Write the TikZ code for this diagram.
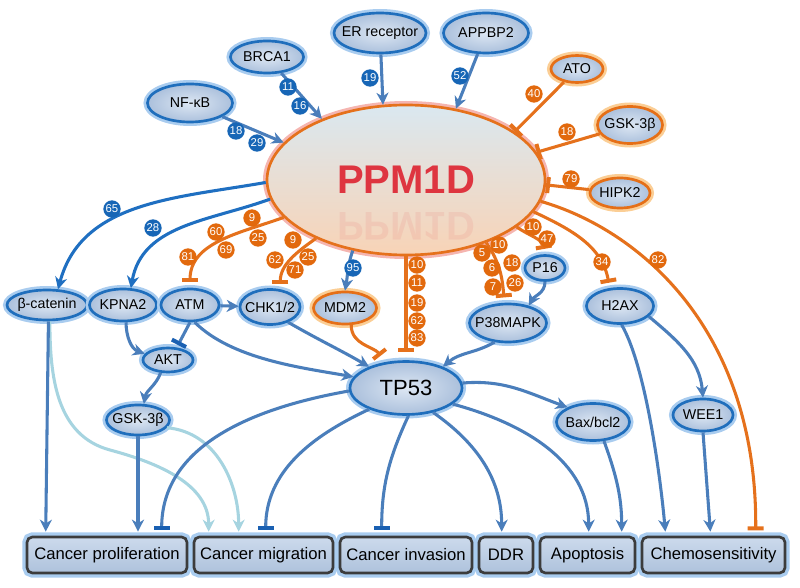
\documentclass[tikz,border=0pt]{standalone}
\usepackage{fontspec}
\setmainfont{Liberation Sans}
\usetikzlibrary{shapes.geometric,arrows.meta,calc}

\definecolor{lineblue}{HTML}{4A7EBB}
\definecolor{deepblue}{HTML}{1F6FC1}
\definecolor{barblue}{HTML}{1A60B2}
\definecolor{paleblue}{HTML}{A6D4E0}
\definecolor{lorange}{HTML}{E5711C}
\definecolor{ndblue}{HTML}{1F6EBC}
\definecolor{ndorange}{HTML}{E56F17}
\definecolor{ndin}{HTML}{DDE7F3}
\definecolor{ndout}{HTML}{ABC0DC}
\definecolor{glowblue}{HTML}{A9CCEF}
\definecolor{gloworange}{HTML}{FBCE95}
\definecolor{badgeblue}{HTML}{1766B6}
\definecolor{badgeorange}{HTML}{E2690D}
\definecolor{boxgrey}{HTML}{3C3C3C}
\definecolor{boxtop}{HTML}{CCDAEC}
\definecolor{boxbot}{HTML}{AEC2DC}
\definecolor{ppmtop}{HTML}{DAE8F0}
\definecolor{ppmbot}{HTML}{F8D3B6}
\definecolor{ppmglow}{HTML}{F5B5B0}
\definecolor{ppmred}{HTML}{DE3540}

\newcommand{\ctr}[1]{\makebox[0pt]{#1}}

\begin{document}
\begin{tikzpicture}[x=0.75pt, y=-0.75pt,
	nd/.style={ellipse, inner sep=0pt, line width=2pt, inner color=ndin, outer color=ndout,
		font=\fontsize{10.7}{12}\selectfont},
	bnd/.style={nd, draw=ndblue, preaction={draw=glowblue, line width=6pt}},
	ond/.style={nd, draw=ndorange, preaction={draw=gloworange, line width=6pt}},
	sz/.style 2 args={minimum width=#1*0.75pt, minimum height=#2*0.75pt},
	outbox/.style={rectangle, rounded corners=4pt, draw=boxgrey, line width=2pt,
		top color=boxtop, bottom color=boxbot, preaction={draw=glowblue, line width=7pt},
		inner sep=0pt, font=\fontsize{12.5}{14}\selectfont},
	act/.style={draw=lineblue, line width=2.3pt, -{Stealth[length=9pt, width=9pt, inset=2.8pt]}},
	lact/.style={act, draw=paleblue},
	inh/.style={draw=lorange, line width=2.3pt, -{Bar[width=12pt, line width=3pt]}, shorten >=4pt},
	binh/.style={draw=lineblue, line width=2.3pt, -{Bar[width=12pt, line width=3pt, color=barblue]}, shorten >=4pt},
	tobox/.style={shorten >=3pt},
	bbadge/.style={circle, fill=badgeblue, text=white, inner sep=0pt, minimum size=13pt,
		font=\fontsize{8.5}{9}\selectfont},
	obadge/.style={bbadge, fill=badgeorange}]

	\useasboundingbox (0,0) rectangle (800,588);

	\node[ellipse, draw=lorange, line width=2pt, top color=ppmtop, bottom color=ppmbot,
		preaction={draw=ppmglow, line width=6pt}, inner sep=0pt, sz={278}{150},
		text=ppmred, font=\fontsize{30}{32}\selectfont\bfseries] (ppm) at (406,180) {PPM1D};
	\node[text=ppmred, text opacity=0.09, font=\fontsize{30}{32}\selectfont\bfseries] (ppmrefl) at (406,226) {\scalebox{1}[-1]{PPM1D}};

	\node[bnd, sz={85}{38}] (nfkb) at (190,103) {\ctr{NF-κB}};
	\node[bnd, sz={73}{32}] (brca) at (267,57) {\ctr{BRCA1}};
	\node[bnd, sz={92}{40}] (er) at (380,33) {\ctr{ER receptor}};
	\node[bnd, sz={85}{40}] (appbp) at (486,33) {\ctr{APPBP2}};
	\node[ond, sz={52}{27}] (ato) at (577,69) {\ctr{ATO}};
	\node[ond, sz={65}{37}] (gskr) at (630,125) {\ctr{GSK-3β}};
	\node[ond, sz={60}{30}] (hipk) at (620,193) {\ctr{HIPK2}};

	\node[bnd, sz={80}{30}] (bcat) at (47,305) {\ctr{β-catenin}};
	\node[bnd, sz={67}{32}] (kpna) at (123,305) {\ctr{KPNA2}};
	\node[bnd, sz={58}{32}] (atm) at (190,305) {\ctr{ATM}};
	\node[bnd, sz={60}{35}] (chk) at (270,307) {\ctr{CHK1/2}};
	\node[ond, sz={63}{32}] (mdm) at (345,308) {\ctr{MDM2}};
	\node[bnd, sz={40}{25}] (p16) at (545,268) {\ctr{P16}};
	\node[bnd, sz={77}{38}] (p38) at (508,323) {\ctr{P38MAPK}};
	\node[bnd, sz={67}{35}] (h2ax) at (620,306) {\ctr{H2AX}};
	\node[bnd, sz={50}{24}] (akt) at (168,360) {\ctr{AKT}};
	\node[bnd, sz={63}{30}] (gskl) at (138,420) {\ctr{GSK-3β}};
	\node[bnd, sz={112}{53}, font=\fontsize{16.5}{18}\selectfont] (tp53) at (406,388) {\ctr{TP53}};
	\node[bnd, sz={73}{37}] (bax) at (593,422) {\ctr{Bax/bcl2}};
	\node[bnd, sz={60}{32}] (wee) at (703,415) {\ctr{WEE1}};

	\node[outbox, sz={160}{36}] (prolif) at (107,555) {Cancer proliferation};
	\node[outbox, sz={139}{36}] (migr) at (263.5,555) {Cancer migration};
	\node[outbox, sz={132}{36}] (inv) at (406,555) {Cancer invasion};
	\node[outbox, sz={54}{36}] (ddr) at (506,555) {DDR};
	\node[outbox, sz={95}{36}] (apop) at (587.5,555) {Apoptosis};
	\node[outbox, sz={143}{36}] (chemo) at (713.5,555) {Chemosensitivity};

	% into PPM1D
	\draw[act] (nfkb) -- (ppm.163);
	\draw[act] (brca) -- (ppm.144);
	\draw[act] (er) -- (ppm.107);
	\draw[act] (appbp) -- (ppm.55);
	\draw[inh, shorten >=0pt] (ato) -- (ppm.24);
	\draw[inh, shorten >=0pt] (gskr) -- (ppm.12);
	\draw[inh, shorten >=0pt] (hipk) -- (ppm.-2);

	% out of PPM1D
	\draw[act, draw=deepblue] (ppm.181) to[out=190, in=75] (bcat.55);
	\draw[act, draw=deepblue] (ppm.188) to[out=200, in=80] (kpna.65);
	\draw[inh] (ppm.197) to[out=200, in=90] (atm.north);
	\draw[inh] (ppm.213) to[out=215, in=90] (chk.60);
	\draw[act] (ppm.233) to[out=250, in=80] (mdm.north);
	\draw[inh, shorten >=6pt] (ppm.south) -- (tp53.north);
	\draw[inh] (ppm.322) to[out=-55, in=95] (p38.100);
	\draw[inh] (ppm.337) to[out=-35, in=100] (p16.north);
	\draw[inh] (ppm.346) to[out=-25, in=100] (h2ax.120);
	\draw[inh] (ppm.351) .. controls (640,230) and (757,330) .. ($(chemo.north west)+(115,0)$);

	% signalling below
	\draw[act] (p16.south) to[out=-90, in=60] (p38.40);
	\draw[act] (atm) -- (chk);
	\draw[act] (kpna.-80) to[out=-90, in=160] (akt.165);
	\draw[binh, shorten >=2pt] (atm.south) -- (akt.55);
	\draw[act] (akt.-120) to[out=-110, in=80] (gskl.70);
	\draw[act] (atm.-75) to[out=-45, in=170, looseness=0.8] (tp53.168);
	\draw[act] (chk.-40) to[out=-30, in=150] (tp53.150);
	\draw[inh, shorten >=6pt] (mdm.-70) to[out=-90, in=128] (tp53.128);
	\draw[act] (p38.-125) to[out=-150, in=40] (tp53.30);
	\draw[act] (tp53.5) to[out=5, in=160] (bax.150);

	\draw[lact, tobox] (bcat.-80) to[out=-90, in=165] (110,450) to[out=-15, in=90] ($(migr.north west)+(16,0)$);
	\draw[lact, tobox] (gskl.-15) to[out=-5, in=90] ($(migr.north west)+(46,0)$);
	\draw[act, tobox] (bcat.-85) -- ($(prolif.north west)+(20,0)$);
	\draw[act, tobox] (gskl.south) -- (gskl.south |- prolif.north);
	\draw[binh] (tp53.183) to[out=190, in=90] ($(prolif.north west)+(136,0)$);
	\draw[binh] (tp53.210) to[out=205, in=90] ($(migr.north west)+(73,0)$);
	\draw[binh] (tp53.275) to[out=-115, in=90] ($(inv.north west)+(43,0)$);
	\draw[act, tobox] (tp53.318) to[out=-35, in=90] ($(ddr.north west)+(24,0)$);
	\draw[act, tobox] (tp53.341) to[out=-15, in=90] ($(apop.north west)+(50,0)$);
	\draw[act, tobox] (bax.-60) to[out=-70, in=90] ($(apop.north west)+(83,0)$);
	\draw[act, tobox] (h2ax.-85) to[out=-60, in=95, looseness=0.6] ($(chemo.north west)+(25,0)$);
	\draw[act] (h2ax.-20) to[out=-40, in=95] (wee.north);
	\draw[act, tobox] (wee.south) -- ($(chemo.north west)+(70,0)$);

	% reference numbers
	\foreach \x/\y/\t [count=\i] in {236/131/18, 257/143/29, 288/87/11, 300/106/16, 370/78/19,
		460/76/52, 112/209/65, 153/228/28, 353/268/95}
		\node[bbadge] (bb\i) at (\x,\y) {\t};
	\foreach \x/\y/\t [count=\i] in {534/94/40, 567/132/18, 571/179/79, 252/218/9, 258/238/25,
		216/232/60, 226/250/69, 188/257/81, 293/240/9, 308/257/25, 275/260/62, 295/270/71,
		417/265/10, 417/283/11, 417/303/19, 417/321/62, 417/338/83, 482/253/5, 499/245/10,
		492/268/6, 512/263/18, 493/287/7, 515/283/26, 533/227/10, 547/239/47, 602/262/34, 658/260/82}
		\node[obadge] (ob\i) at (\x,\y) {\t};
\end{tikzpicture}
\end{document}
